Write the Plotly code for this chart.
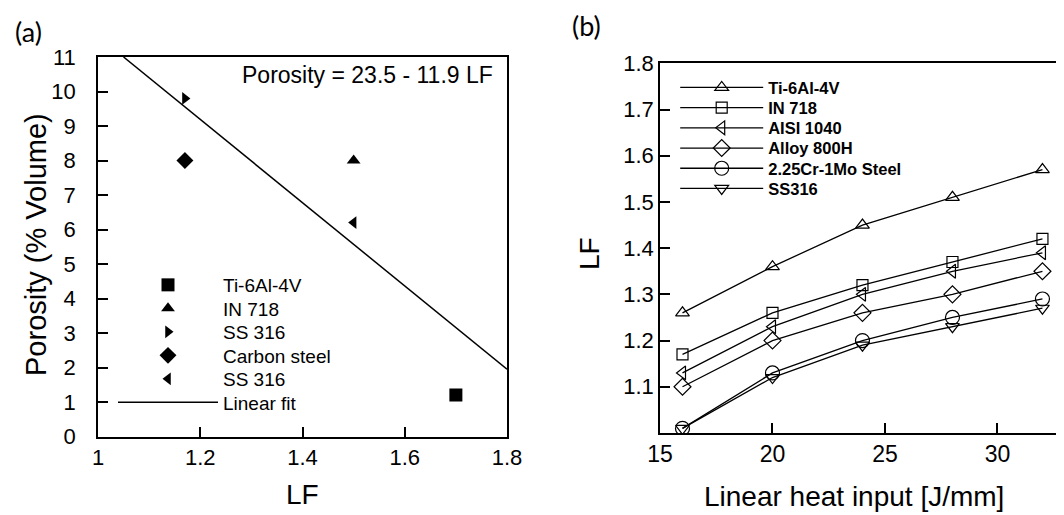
import plotly.graph_objects as go

# Page is shown with the browser's default 8px body margin, so the figure is
# sized to fit the 1064x515 window and positions below are given in window pixels.
WIN_W, WIN_H = 1064, 515
OFF = 8
W, H = WIN_W - OFF, WIN_H - OFF

def px(xp):
    return (xp - OFF) / W

def py(yp):
    return 1 - (yp - OFF) / H

# ---------------- Panel (a) data ----------------
a_names = ["Ti-6Al-4V", "IN 718", "SS 316", "Carbon steel", "SS 316"]
a_lf = [1.70, 1.50, 1.17, 1.17, 1.50]
a_porosity = [1.2, 8.0, 9.8, 8.0, 6.2]
a_symbols = ["square", "triangle-up", "triangle-right", "diamond", "triangle-left"]
a_sizes = [13, 12, 11, 13, 11]
fit_label = "Linear fit"
fit_lf = [1.05, 1.80]
fit_porosity = [11.0, 1.95]
fit_text = "Porosity = 23.5 - 11.9 LF"
a_xticks = [1.0, 1.2, 1.4, 1.6, 1.8]
a_yticks = list(range(0, 12))

# ---------------- Panel (b) data ----------------
b_heat = [16, 20, 24, 28, 32]
b_names = ["Ti-6Al-4V", "IN 718", "AISI 1040", "Alloy 800H", "2.25Cr-1Mo Steel", "SS316"]
lf_ti64 = [1.26, 1.36, 1.45, 1.51, 1.57]
lf_in718 = [1.17, 1.26, 1.32, 1.37, 1.42]
lf_aisi1040 = [1.13, 1.23, 1.30, 1.35, 1.39]
lf_800h = [1.10, 1.20, 1.26, 1.30, 1.35]
lf_crmo = [1.01, 1.13, 1.20, 1.25, 1.29]
lf_ss316 = [1.01, 1.12, 1.19, 1.23, 1.27]
b_symbols = ["triangle-up-open", "square-open", "triangle-left-open",
             "diamond-open", "circle-open", "triangle-down-open"]
b_sizes = [12, 11, 12, 13, 14, 12]
b_xticks = [15, 20, 25, 30]
b_yticks = [1.1, 1.2, 1.3, 1.4, 1.5, 1.6, 1.7, 1.8]

FONT = "Liberation Sans, Arial, sans-serif"

fig = go.Figure()
layout_legends = {}

def legend_spec(x_px, y_px, size, bold, itemwidth):
    return dict(
        x=px(x_px), y=py(y_px), xanchor="left", yanchor="middle",
        bgcolor="rgba(0,0,0,0)", borderwidth=0, itemwidth=itemwidth,
        font=dict(family=FONT, size=size, color="black",
                  weight="bold" if bold else "normal"),
        itemclick=False, itemdoubleclick=False,
    )

# Panel (a) traces
A_IW = 100
A_MARK_X = 168
a_rows = 285.0
for i, (nm, x, y, sym, sz) in enumerate(zip(a_names, a_lf, a_porosity, a_symbols, a_sizes)):
    lg = "legend" if i == 0 else f"legend{i+1}"
    fig.add_trace(go.Scatter(
        x=[x], y=[y], mode="markers", name=nm, xaxis="x", yaxis="y",
        marker=dict(symbol=sym, size=sz, color="black", line=dict(width=0)),
        legend=lg, showlegend=True))
    layout_legends[lg] = legend_spec(A_MARK_X - (A_IW + 10) / 2, a_rows + 23.5 * i, 19, False, A_IW)

fig.add_trace(go.Scatter(
    x=fit_lf, y=fit_porosity, mode="lines", name=fit_label, xaxis="x", yaxis="y",
    line=dict(color="black", width=1.5), legend="legend6"))
layout_legends["legend6"] = legend_spec(A_MARK_X - (A_IW + 10) / 2, a_rows + 23.5 * 5, 19, False, A_IW)

# Panel (b) traces
B_IW = 83
b_series = [lf_ti64, lf_in718, lf_aisi1040, lf_800h, lf_crmo, lf_ss316]
for i, (nm, ys, sym, sz) in enumerate(zip(b_names, b_series, b_symbols, b_sizes)):
    lg = f"legend{7+i}"
    fig.add_trace(go.Scatter(
        x=b_heat, y=ys, mode="lines+markers", name=nm, xaxis="x2", yaxis="y2",
        line=dict(color="black", width=1.3),
        marker=dict(symbol=sym, size=sz, color="black", line=dict(width=1.2, color="black")),
        legend=lg))
    layout_legends[lg] = legend_spec(721.7 - (B_IW + 10) / 2, 87.7 + 20.2 * i, 16.5, True, B_IW)

axis_common = dict(showline=True, linecolor="black", linewidth=1.5, mirror=True,
                   ticks="inside", tickcolor="black", tickwidth=1.5, ticklen=10,
                   showgrid=False, zeroline=False, automargin=False)

fig.update_layout(
    width=W, height=H, margin=dict(l=0, r=0, t=0, b=0, pad=0, autoexpand=False),
    paper_bgcolor="white", plot_bgcolor="white",
    font=dict(family=FONT, color="black"),
    xaxis=dict(domain=[px(98), px(507)], range=[1.0, 1.8], tickvals=a_xticks,
               ticktext=[f"{v:g}" for v in a_xticks],
               tickfont=dict(size=22), anchor="y", **axis_common),
    yaxis=dict(domain=[py(436.5), py(57)], range=[0, 11], tickvals=a_yticks,
               tickfont=dict(size=22), anchor="x", ticklabelstandoff=16, **axis_common),
    xaxis2=dict(domain=[px(660), min(1.0, px(1062.7))], range=[15, 32.9], tickvals=b_xticks,
                tickfont=dict(size=23), anchor="y2", **axis_common),
    yaxis2=dict(domain=[py(433), py(63.3)], range=[1.0, 1.8], tickvals=b_yticks,
                ticktext=[f"{v:.1f}" for v in b_yticks],
                tickfont=dict(size=22), anchor="x2", **axis_common),
    **layout_legends,
)

def ann(text, x_px, y_px, size, family=FONT, angle=0, xanchor="center"):
    fig.add_annotation(text=text, x=px(x_px), y=py(y_px), xref="paper", yref="paper",
                       showarrow=False, xanchor=xanchor, yanchor="middle", textangle=angle,
                       font=dict(family=family, size=size, color="black"))

ann(fit_text, 367, 75, 23)
ann("LF", 302, 494, 28)
ann("Porosity (% Volume)", 36, 245, 29, angle=-90)
ann("Linear heat input [J/mm]", 854, 496, 28)
ann("LF", 589, 254, 28, angle=-90)
ann("(a)", 28.5, 31, 27, family="Lato, Carlito, sans-serif")
ann("(b)", 586, 26, 27, family="Lato, Carlito, sans-serif")

fig.write_html("out.html")
